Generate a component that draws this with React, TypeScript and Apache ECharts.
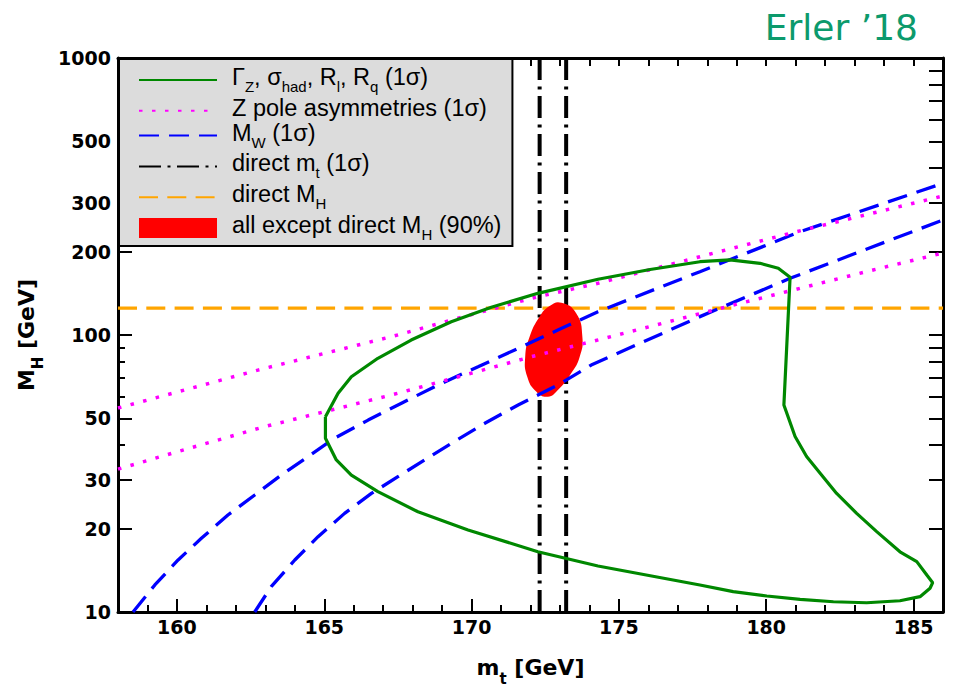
import React, { useEffect, useRef } from 'react';
import * as echarts from 'echarts';

// ---------- data ----------
const xTicksMajor = [160, 165, 170, 175, 180, 185];
const xTicksMinor = [159, 161, 162, 163, 164, 166, 167, 168, 169, 171, 172, 173, 174, 176, 177, 178, 179, 181, 182, 183, 184];
const xTicksTop = [159, 160, 161, 162, 163, 164, 165, 166, 167, 168, 169, 170, 171, 172, 173, 174, 175, 176, 177, 178, 179, 180, 181, 182, 183, 184, 185];
const yLabelValues = [10, 20, 30, 50, 100, 200, 300, 500, 1000];
const yTicksMajor = [20, 30, 50, 100, 200, 300, 500];
const yTicksMinor = [40, 60, 70, 80, 90, 400, 600, 700, 800, 900];
const yTicksRight = [20, 30, 40, 50, 60, 70, 80, 90, 100, 200, 300, 400, 500, 600, 700, 800, 900];

// Gamma_Z, sigma_had, R_l, R_q (1 sigma) contour
const greenMt = [165.04, 165.47, 165.92, 166.82, 167.95, 169.31, 170.67, 172.25, 174.29, 176.06, 177.75, 178.77, 179.79, 180.41, 180.81, 180.6, 180.98, 181.37, 181.83, 182.39, 183.07, 183.75, 184.54, 185.11, 185.45, 185.65, 185.56, 185.22, 184.54, 183.41, 182.28, 181.15, 180.02, 178.88, 177.75, 174.29, 172.25, 169.88, 168.18, 166.82, 165.92, 165.41, 165.04, 165.04];
const greenMh = [50.7, 61.6, 70.7, 82.4, 95.9, 111.7, 125.9, 141.4, 158.9, 172.4, 183.9, 186.6, 181.5, 174.1, 161.6, 55.9, 43.0, 36.4, 31.7, 26.8, 22.7, 19.5, 16.5, 15.2, 13.6, 12.76, 12.18, 11.36, 10.98, 10.8, 10.89, 11.11, 11.42, 11.84, 12.52, 14.66, 16.51, 19.77, 23.0, 27.2, 31.2, 35.4, 42.4, 50.7];

// Z pole asymmetries (1 sigma)
const zUpMt = [158, 160.26, 162.75, 165.02, 167.28, 169.54, 172.03, 174.29, 177.75, 181.03, 186];
const zUpMh = [54.5, 63.3, 74.7, 85.9, 98.6, 114.9, 135.7, 153.7, 191.7, 236.0, 317.6];
const zLoMt = [158, 160.6, 162.98, 165.24, 167.5, 169.77, 172.03, 174.06, 179.11, 181.37, 183.63, 186];
const zLoMh = [32.8, 39.5, 46.7, 53.6, 61.6, 71.7, 83.5, 94.6, 130.1, 149.4, 171.7, 197.7];

// M_W (1 sigma)
const mwUpMt = [158.51, 159.25, 160.04, 160.83, 161.73, 162.64, 163.54, 164.45, 165.35, 166.49, 167.62, 168.86, 170.22, 171.58, 172.93, 174.29, 177.75, 181.15, 186.0];
const mwUpMh = [10, 12.52, 15.41, 18.45, 22.4, 26.45, 31.2, 36.4, 42.4, 49.3, 56.7, 66.0, 76.8, 89.5, 104.2, 121.4, 169.3, 236.0, 353.0];
const mwLoMt = [162.64, 163.2, 164.0, 164.79, 165.69, 166.6, 167.5, 168.41, 169.31, 170.45, 171.58, 172.93, 174.06, 177.75, 180.81, 186.0];
const mwLoMh = [10, 12.34, 15.41, 18.7, 22.7, 26.8, 30.8, 35.4, 40.6, 48.0, 55.9, 66.0, 77.9, 116.5, 160.2, 260.2];

// direct m_t (1 sigma) and direct M_H
const mtDirect = [172.31, 173.21];
const mhRange = [10, 1000];
const mhDirect = 125.1;
const mtRange = [158, 186];

// all except direct M_H (90%)
const ellMt = [173.05, 173.55, 173.76, 173.67, 173.38, 172.93, 172.59, 172.2, 171.89, 171.82, 171.97, 172.31, 172.65];
const ellMh = [130.8, 119.8, 98.6, 83.5, 72.7, 63.3, 59.9, 62.4, 70.7, 83.5, 98.6, 116.5, 127.3];

const legendLabels: Record<string, string> = {
  gz: '{sp| }{n|Γ}{s|Z}{n|, σ}{s|had}{n|, R}{s|l}{n|, R}{s|q}{n| (1σ)}',
  zp: '{sp| }{n|Z pole asymmetries (1σ)}',
  mw: '{sp| }{n|M}{s|W}{n| (1σ)}',
  mt: '{sp| }{n|direct m}{s|t}{n| (1σ)}',
  mh: '{sp| }{n|direct M}{s|H}',
  all: '{sp| }{n|all except direct M}{s|H}{n| (90%)}',
};

const FONT_LEGEND = '"Liberation Sans", Arial, sans-serif';
const FONT_AXIS = '"DejaVu Sans", sans-serif';

export default function App() {
  const ref = useRef<HTMLDivElement>(null);
  useEffect(() => {
    const chart = echarts.init(ref.current!, null, { renderer: 'svg' });
    const pairs = (xs: number[], ys: number[]) => xs.map((x, i) => [x, ys[i]]);
    const line = (name: string, data: number[][], color: string, width: number, dash: any, z: number) => ({
      type: 'line',
      name,
      data,
      xAxisIndex: 0,
      yAxisIndex: 0,
      symbol: 'none',
      showSymbol: false,
      z,
      clip: true,
      silent: true,
      emphasis: { disabled: true },
      lineStyle: { color, width, type: dash, cap: 'butt' },
      itemStyle: { color },
    });

    const nameRich = {
      b: { fontFamily: FONT_AXIS, fontWeight: 'bold', fontSize: 22, color: '#000', lineHeight: 32, verticalAlign: 'top' },
      bs: { fontFamily: FONT_AXIS, fontWeight: 'bold', fontSize: 15, color: '#000', lineHeight: 32, verticalAlign: 'bottom', padding: [0, 0, 2, 0] },
    };
    const tickLabel = { color: '#000', fontFamily: FONT_AXIS, fontWeight: 'bold', fontSize: 19 };
    const frame = { show: true, onZero: false, lineStyle: { color: '#000', width: 3 } };
    const noLine = { show: false, onZero: false };
    const hiddenSymbol = { opacity: 0 };

    const ellipseData = pairs(ellMt, ellMh);

    const option: any = {
      animation: false,
      backgroundColor: '#ffffff',
      title: {
        text: 'Erler ’18',
        right: 38,
        top: 9,
        padding: 0,
        textStyle: { fontFamily: FONT_AXIS, fontSize: 36, fontWeight: 'normal', color: '#0c9a6c' },
      },
      grid: { left: 118, right: 13, top: 58, bottom: 76, containLabel: false, outerBoundsMode: 'none' },
      legend: {
        orient: 'vertical',
        left: 119,
        top: 59,
        backgroundColor: '#dcdcdc',
        borderColor: '#000',
        borderWidth: 2,
        borderRadius: 0,
        padding: [6, 11, 3, 19],
        itemWidth: 78,
        itemHeight: 20,
        itemGap: 0.8,
        selectedMode: false,
        data: [
          { name: 'gz', itemStyle: hiddenSymbol },
          { name: 'zp', itemStyle: hiddenSymbol },
          { name: 'mw', itemStyle: hiddenSymbol },
          { name: 'mt', itemStyle: hiddenSymbol },
          { name: 'mh', itemStyle: hiddenSymbol },
          { name: 'all', icon: 'rect', itemStyle: { color: '#ff0000' } },
        ],
        formatter: (name: string) => legendLabels[name],
        textStyle: {
          fontFamily: FONT_LEGEND,
          fontSize: 23,
          color: '#000',
          rich: {
            sp: { width: 10, fontSize: 10 },
            n: { fontFamily: FONT_LEGEND, fontSize: 23.5, color: '#000', lineHeight: 30, verticalAlign: 'top' },
            s: { fontFamily: FONT_LEGEND, fontSize: 15, color: '#000', lineHeight: 30, verticalAlign: 'bottom', padding: [0, 0, 1, 0] },
          },
        },
      },
      xAxis: [
        {
          type: 'value', position: 'bottom', min: mtRange[0], max: mtRange[1],
          axisLine: frame,
          axisTick: { show: true, inside: true, length: 13, lineStyle: { color: '#000', width: 2 }, customValues: xTicksMajor },
          axisLabel: { show: true, customValues: xTicksMajor, margin: 5, ...tickLabel, formatter: (v: number) => String(v) },
          splitLine: { show: false },
          name: '{b|m}{bs|t}{b| [GeV]}',
          nameLocation: 'middle',
          nameGap: 44,
          nameTextStyle: { rich: nameRich },
        },
        {
          type: 'value', position: 'bottom', min: mtRange[0], max: mtRange[1],
          axisLine: noLine,
          axisTick: { show: true, inside: true, length: 7, lineStyle: { color: '#000', width: 2 }, customValues: xTicksMinor },
          axisLabel: { show: false },
          splitLine: { show: false },
        },
        {
          type: 'value', position: 'top', min: mtRange[0], max: mtRange[1],
          axisLine: frame,
          axisTick: { show: true, inside: true, length: 8, lineStyle: { color: '#000', width: 2 }, customValues: xTicksTop },
          axisLabel: { show: false },
          splitLine: { show: false },
        },
      ],
      yAxis: [
        {
          type: 'log', logBase: 10, position: 'left', min: mhRange[0], max: mhRange[1],
          axisLine: frame,
          axisTick: { show: true, inside: true, length: 14, lineStyle: { color: '#000', width: 2 }, customValues: yTicksMajor },
          axisLabel: { show: true, customValues: yLabelValues, margin: 7, ...tickLabel, formatter: (v: number) => String(Math.round(v)) },
          splitLine: { show: false },
          name: '{b|M}{bs|H}{b| [GeV]}',
          nameLocation: 'middle',
          nameGap: 68,
          nameTextStyle: { rich: nameRich },
        },
        {
          type: 'log', logBase: 10, position: 'left', min: mhRange[0], max: mhRange[1],
          axisLine: noLine,
          axisTick: { show: true, inside: true, length: 7, lineStyle: { color: '#000', width: 2 }, customValues: yTicksMinor },
          axisLabel: { show: false },
          splitLine: { show: false },
        },
        {
          type: 'log', logBase: 10, position: 'right', min: mhRange[0], max: mhRange[1],
          axisLine: frame,
          axisTick: { show: true, inside: true, length: 14, lineStyle: { color: '#000', width: 2 }, customValues: yTicksRight },
          axisLabel: { show: false },
          splitLine: { show: false },
        },
      ],
      series: [
        line('mh', [[mtRange[0], mhDirect], [mtRange[1], mhDirect]], '#ffa500', 3.3, [19, 9.3], 2),
        line('mt', [[mtDirect[0], mhRange[0]], [mtDirect[0], mhRange[1]]], '#000000', 4, [22, 6.5, 3, 6.5], 2),
        line('mt', [[mtDirect[1], mhRange[0]], [mtDirect[1], mhRange[1]]], '#000000', 4, [22, 6.5, 3, 6.5], 2),
        {
          type: 'custom',
          name: 'all',
          xAxisIndex: 0,
          yAxisIndex: 0,
          z: 3,
          silent: true,
          clip: true,
          itemStyle: { color: '#ff0000' },
          data: ellipseData,
          renderItem: (params: any, api: any) => {
            if (params.dataIndex !== 0) return null;
            const pts = ellipseData.map((p) => api.coord(p));
            return { type: 'polygon', shape: { points: pts, smooth: 0.5 }, style: { fill: '#ff0000' } };
          },
        },
        line('mw', pairs(mwUpMt, mwUpMh), '#0000ff', 3.3, [20, 10], 4),
        line('mw', pairs(mwLoMt, mwLoMh), '#0000ff', 3.3, [20, 10], 4),
        line('zp', pairs(zUpMt, zUpMh), '#ff00ff', 3.5, [3.5, 9.5], 5),
        line('zp', pairs(zLoMt, zLoMh), '#ff00ff', 3.5, [3.5, 9.5], 5),
        line('gz', pairs(greenMt, greenMh), '#008800', 3.2, 'solid', 6),
      ],
    };
    chart.setOption(option);
    return () => chart.dispose();
  }, []);
  return <div ref={ref} style={{ position: 'fixed', left: 0, top: 0, width: 956, height: 688, background: '#fff' }} />;
}
